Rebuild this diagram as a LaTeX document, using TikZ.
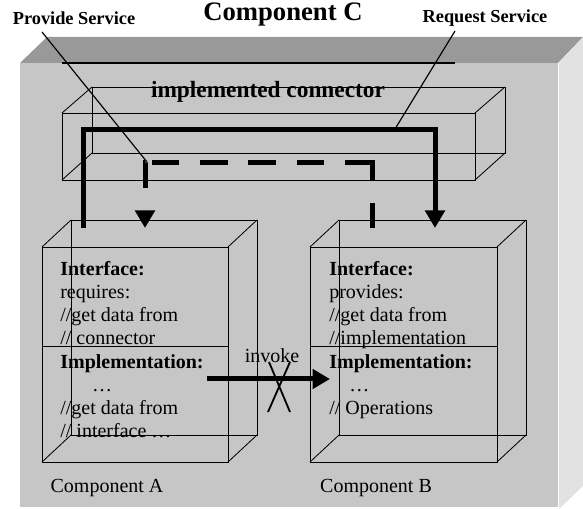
\documentclass[tikz,border=0pt]{standalone}
\usepackage{fontspec}
\setmainfont{Liberation Serif}
\usetikzlibrary{arrows.meta,positioning}
\definecolor{toptone}{RGB}{153,153,153}
\definecolor{fronttone}{RGB}{198,198,198}
\definecolor{sidetone}{RGB}{226,226,226}

\begin{document}
\begin{tikzpicture}[x=0.6pt,y=-0.6pt,
    wire/.style={line width=0.5pt},
    conn/.style={line width=3pt,-{Triangle[width=11.5pt,length=10.5pt]}},
    leader/.style={line width=0.7pt},
    boxtext/.style={anchor=north west,inner sep=0pt,align=left,font=\fontsize{12}{13.9}\selectfont},
    caption/.style={inner sep=0pt,font=\fontsize{12}{14}\selectfont}]
    \useasboundingbox (0,0) rectangle (583,509);
    % component C as a solid block
    \fill[toptone] (20,63) -- (47,37) -- (583,37) -- (558,63) -- cycle;
    \fill[sidetone] (559,63) -- (583,37) -- (583,486) -- (559,509) -- cycle;
    \fill[fronttone] (20,63) rectangle (558,507);
    \draw[line width=0.8pt] (62,63) -- (455,63);
    \node[font=\bfseries\fontsize{16}{18}\selectfont,inner sep=0pt] (title) at (283,15) {Component C};
    \node[font=\bfseries\fontsize{11}{13}\selectfont,inner sep=0pt] (provide) at (74,18) {Provide Service};
    \node[font=\bfseries\fontsize{11}{13}\selectfont,inner sep=0pt] (request) at (485,18) {Request Service};

    % connector wire frame
    \draw[wire] (62,113) rectangle (475,180);
    \draw[wire] (92,87) rectangle (505,153);
    \draw[wire] (62,113) -- (92,87) (475,113) -- (505,87) (62,180) -- (92,153) (475,180) -- (505,153);
    \node[font=\bfseries\fontsize{14}{16}\selectfont,inner sep=0pt] (impl) at (268,92) {implemented connector};

    % component A
    \draw[wire] (42,247) rectangle (228,462);
    \draw[wire] (71,220) rectangle (257,435);
    \draw[wire] (42,247) -- (71,220) (228,247) -- (257,220) (42,462) -- (71,435) (228,462) -- (257,435);
    \draw[wire] (42,346) -- (228,346);
    \node[boxtext] (textA) at (60,261) {\textbf{Interface:}\\requires:\\//get data from\\// connector\\
        \textbf{Implementation:}\\\hspace*{19pt}…\\//get data from\\// interface …};
    \node[caption] (compA) at (107,488) {Component A};

    % component B
    \draw[wire] (310,247) rectangle (497,462);
    \draw[wire] (339,220) rectangle (526,435);
    \draw[wire] (310,247) -- (339,220) (497,247) -- (526,220) (310,462) -- (339,435) (497,462) -- (526,435);
    \draw[wire] (310,346) -- (497,346);
    \node[boxtext] (textB) at (329,261) {\textbf{Interface:}\\provides:\\//get data from\\//implementation\\
        \textbf{Implementation:}\\\hspace*{12pt}…\\// Operations};
    \node[caption] (compB) at (376,488) {Component B};

    % ports
    \coordinate (reqA) at (83,228);
    \coordinate (getA) at (145,228);
    \coordinate (putB) at (372,228);
    \coordinate (provB) at (435,228);
    \coordinate (callA) at (207,379);
    \coordinate (callB) at (330,379);

    \draw[conn] (reqA) -- ++(0,-98) -| (provB);
    \draw[conn,dash pattern=on 15pt off 13.8pt on 26.4pt off 12.6pt on 16.2pt off 12.6pt on 16.8pt off 12pt on 16.8pt off 12.6pt on 16.2pt off 4.2pt on 15pt off 40pt]
        (putB) -- ++(0,-65) -| (getA);
    \draw[conn] (callA) -- (callB);
    \node[caption] (invoke) at (272,356) {invoke};
    \draw[line width=1.1pt] (268,412) -- (290,362) (290,412) -- (269,362);

    % leaders
    \coordinate (provfoot) at (42,32);
    \coordinate (provend) at (147,162);
    \coordinate (reqfoot) at (455,31);
    \coordinate (reqend) at (395,129);
    \draw[leader] (provfoot) -- (provend);
    \draw[leader] (reqfoot) -- (reqend);
\end{tikzpicture}
\end{document}
